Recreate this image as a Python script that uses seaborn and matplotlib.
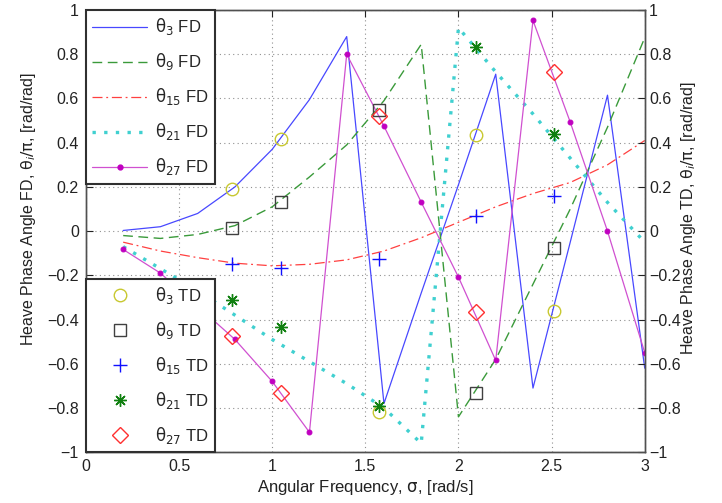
import matplotlib
matplotlib.use("Agg")
import matplotlib.pyplot as plt
import seaborn as sns
import pandas as pd
from matplotlib.lines import Line2D

# ---------------- data ----------------
sigma_fd = [0.2, 0.4, 0.6, 0.8, 1.0, 1.2, 1.4, 1.6, 1.8, 2.0, 2.2, 2.4, 2.6, 2.8, 3.0]
theta3_fd = [0.003, 0.02, 0.08, 0.2, 0.37, 0.595, 0.88, -0.78, -0.28, 0.21, 0.71, -0.71, -0.05, 0.615, -0.62]
theta9_fd = [-0.02, -0.033, -0.015, 0.025, 0.11, 0.245, 0.39, 0.59, 0.845, -0.84, -0.58, -0.24, 0.10, 0.47, 0.875]
theta15_fd = [-0.05, -0.09, -0.12, -0.145, -0.157, -0.15, -0.13, -0.09, -0.03, 0.04, 0.11, 0.17, 0.22, 0.30, 0.41]
theta21_fd = [-0.07, -0.17, -0.27, -0.38, -0.49, -0.59, -0.69, -0.80, -0.96, 0.92, 0.72, 0.53, 0.33, 0.13, -0.05]
theta27_fd = [-0.083, -0.19, -0.34, -0.49, -0.68, -0.91, 0.80, 0.475, 0.131, -0.208, -0.585, 0.953, 0.493, 0.0, -0.55]

sigma_td = [0.785, 1.047, 1.571, 2.094, 2.513]
theta3_td = [0.19, 0.415, -0.82, 0.433, -0.362]
theta9_td = [0.015, 0.131, 0.55, -0.73, -0.078]
theta15_td = [-0.148, -0.166, -0.125, 0.068, 0.16]
theta21_td = [-0.312, -0.434, -0.79, 0.833, 0.44]
theta27_td = [-0.475, -0.734, 0.52, -0.367, 0.72]

fd_labels = [r"$\mathrm{\theta}_{3}$ FD", r"$\mathrm{\theta}_{9}$ FD", r"$\mathrm{\theta}_{15}$ FD",
             r"$\mathrm{\theta}_{21}$ FD", r"$\mathrm{\theta}_{27}$ FD"]
td_labels = [r"$\mathrm{\theta}_{3}$ TD", r"$\mathrm{\theta}_{9}$ TD", r"$\mathrm{\theta}_{15}$ TD",
             r"$\mathrm{\theta}_{21}$ TD", r"$\mathrm{\theta}_{27}$ TD"]

x_ticks = [0, 0.5, 1, 1.5, 2, 2.5, 3]
x_ticklabels = ["0", "0.5", "1", "1.5", "2", "2.5", "3"]
y_ticks = [-1, -0.8, -0.6, -0.4, -0.2, 0, 0.2, 0.4, 0.6, 0.8, 1]
y_ticklabels = ["\u22121", "\u22120.8", "\u22120.6", "\u22120.4", "\u22120.2", "0", "0.2", "0.4", "0.6", "0.8", "1"]

# ---------------- style ----------------
sns.set_style("white")
plt.rcParams["font.family"] = ["Liberation Sans", "DejaVu Sans"]
plt.rcParams["mathtext.fontset"] = "dejavusans"

fig = plt.figure(figsize=(7.22, 5.03), dpi=100)
ax = fig.add_axes([0.119, 0.101, 0.774, 0.879])

fd_series = [theta3_fd, theta9_fd, theta15_fd, theta21_fd, theta27_fd]
fd_styles = [
    dict(color="#4848ff", linestyle="-", linewidth=0.9),
    dict(color="#3a9a3a", linestyle=(0, (7, 4)), linewidth=1.0),
    dict(color="#ff4040", linestyle=(0, (8, 3, 1.5, 3)), linewidth=0.9),
    dict(color="#40d0d0", linestyle=(0, (1, 2.5)), linewidth=2.4),
    dict(color="#d050d0", linestyle="-", linewidth=0.9, marker="o", markersize=3.5,
         markerfacecolor="#c000c0", markeredgecolor="#c000c0"),
]
fd_handles = []
for ys, st in zip(fd_series, fd_styles):
    df = pd.DataFrame({"sigma": sigma_fd, "theta": ys})
    sns.lineplot(data=df, x="sigma", y="theta", ax=ax, sort=False, estimator=None, **st)
    fd_handles.append(Line2D([], [], **st))

td_series = [theta3_td, theta9_td, theta15_td, theta21_td, theta27_td]
td_styles = [
    dict(marker="o", markersize=9, markerfacecolor="none", markeredgecolor="#c8c830", markeredgewidth=1.0),
    dict(marker="s", markersize=9, markerfacecolor="none", markeredgecolor="#404040", markeredgewidth=1.0),
    dict(marker="+", markersize=10, markerfacecolor="none", markeredgecolor="#1010ff", markeredgewidth=1.0),
    dict(marker=(8, 2, 0), markersize=9, markerfacecolor="none", markeredgecolor="#108010", markeredgewidth=1.0),
    dict(marker="D", markersize=8, markerfacecolor="none", markeredgecolor="#ff3030", markeredgewidth=1.0),
]
td_handles = []
for ys, st in zip(td_series, td_styles):
    df = pd.DataFrame({"sigma": sigma_td, "theta": ys})
    sns.lineplot(data=df, x="sigma", y="theta", ax=ax, sort=False, estimator=None,
                 linestyle="none", **st)
    td_handles.append(Line2D([], [], linestyle="none", **st))

ax.set_xlim(0, 3)
ax.set_ylim(-1, 1)
ax.set_xticks(x_ticks)
ax.set_xticklabels(x_ticklabels)
ax.set_yticks(y_ticks)
ax.set_yticklabels(y_ticklabels)
ax.grid(True, linestyle=(0, (1, 3)), color="#909090", linewidth=0.8)
ax.tick_params(axis="both", direction="in", length=5, width=0.8, colors="#222222",
               labelsize=11.5, top=True, pad=5)
for s in ax.spines.values():
    s.set_color("#505050")
    s.set_linewidth(1.0)

ax.set_xlabel(r"Angular Frequency, $\mathrm{\sigma}$, [rad/s]", fontsize=12, color="#222222", labelpad=3)
ax.set_ylabel(r"Heave Phase Angle FD, $\mathrm{\theta}_i/\mathrm{\pi}$, [rad/rad]", fontsize=11.5, color="#222222")
ax.yaxis.set_label_coords(-0.085, 0.55)

ax2 = ax.twinx()
ax2.set_ylim(-1, 1)
ax2.set_yticks(y_ticks)
ax2.set_yticklabels(y_ticklabels)
ax2.tick_params(axis="y", direction="in", length=5, width=0.8, colors="#222222",
                labelsize=11.5, pad=3)
for s in ax2.spines.values():
    s.set_color("#505050")
    s.set_linewidth(1.0)
ax2.set_ylabel(r"Heave Phase Angle TD, $\mathrm{\theta}_i/\mathrm{\pi}$, [rad/rad]", fontsize=11.5, color="#222222")
ax2.yaxis.set_label_coords(1.062, 0.53)
ax2.grid(False)

leg_kw = dict(fontsize=12, handlelength=3.3, handletextpad=0.45, borderaxespad=0,
              labelspacing=0.84, borderpad=0.38, fancybox=False, framealpha=1,
              edgecolor="#303030")
leg1 = ax2.legend(fd_handles, fd_labels, loc="upper left", **leg_kw)
leg1.get_frame().set_linewidth(1.5)
ax2.add_artist(leg1)
leg2 = ax2.legend(td_handles, td_labels, loc="lower left", **leg_kw)
leg2.get_frame().set_linewidth(1.5)

if ax.get_legend() is not None:
    ax.get_legend().remove()

fig.savefig("out.png", dpi=100)
